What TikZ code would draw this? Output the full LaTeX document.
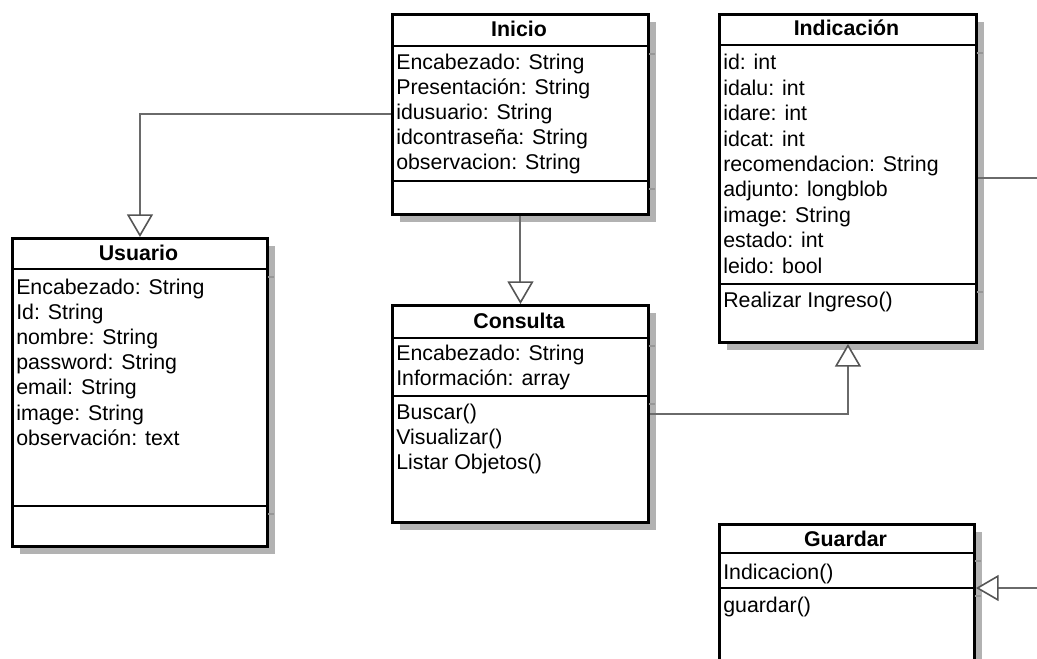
\documentclass[tikz,border=0pt]{standalone}
\usepackage{fontspec}
\setmainfont{Liberation Sans}
\usetikzlibrary{arrows.meta,shadows}
\definecolor{shadowgray}{HTML}{B2B2B2}
\definecolor{linkgray}{HTML}{6A6A6A}
\definecolor{tipgray}{HTML}{555555}

% \umlbox{name}{left}{top}{right}{bottom}{sep1}{sep2}
\newcommand{\umlbox}[7]{%
  \node[classbox, minimum width={(#4-#2)*0.75pt}, minimum height={(#5-#3)*0.75pt}] (#1) at (#2,#3) {};
  \draw[shadowsep] (#4+2,#6+8) -- (#4+8,#6+8);
  \draw[shadowsep] (#4+2,#7+8) -- (#4+8,#7+8);
  \draw[sepline] (#2,#6) -- (#4,#6);
  \draw[sepline] (#2,#7) -- (#4,#7);
}

\begin{document}
\begin{tikzpicture}[x=0.75pt,y=-0.75pt,
  classbox/.style={draw=black, line width=2.2pt, fill=white, anchor=north west,
    inner sep=0pt, drop shadow={shadow xshift=6pt, shadow yshift=-6pt, fill=shadowgray, opacity=1}},
  sepline/.style={draw=black, line width=2.2pt},
  shadowsep/.style={draw=shadowgray!85!black, line width=0.8pt},
  member/.style={anchor=base west, inner sep=0pt, font=\fontsize{16}{19}\selectfont},
  classtitle/.style={anchor=base, inner sep=0pt, font=\fontsize{16}{19}\selectfont\bfseries},
  link/.style={draw=linkgray, line width=1.5pt},
  gen/.style={-{Triangle[length=17pt, width=19.5pt, fill=white, color=tipgray, line width=1.2pt]}}
]
\clip (0,0) rectangle (1037,659);

% Inicio
\umlbox{inicio}{391}{13}{647}{213}{46}{181}
\node[classtitle] (inicioT) at (519,37) {Inicio};
\node[member] (i1) at (396,70) {Encabezado: String};
\node[member] (i2) at (396,95) {Presentación: String};
\node[member] (i3) at (396,120) {idusuario: String};
\node[member] (i4) at (396,145) {idcontraseña: String};
\node[member] (i5) at (396,170) {observacion: String};

% Indicacion
\umlbox{indicacion}{718}{13}{975}{341}{45}{284}
\node[classtitle] (indT) at (846.5,36) {Indicación};
\node[member] (n1) at (723,70) {id: int};
\node[member] (n2) at (723,95.4) {idalu: int};
\node[member] (n3) at (723,120.8) {idare: int};
\node[member] (n4) at (723,146.2) {idcat: int};
\node[member] (n5) at (723,171.6) {recomendacion: String};
\node[member] (n6) at (723,197) {adjunto: longblob};
\node[member] (n7) at (723,222.4) {image: String};
\node[member] (n8) at (723,247.8) {estado: int};
\node[member] (n9) at (723,273.2) {leido: bool};
\node[member] (nm1) at (723,307) {Realizar Ingreso()};

% Usuario
\umlbox{usuario}{11}{237}{266}{545}{269}{506}
\node[classtitle] (usuT) at (138.5,260) {Usuario};
\node[member] (u1) at (16,294) {Encabezado: String};
\node[member] (u2) at (16,319.2) {Id: String};
\node[member] (u3) at (16,344.4) {nombre: String};
\node[member] (u4) at (16,369.6) {password: String};
\node[member] (u5) at (16,394.8) {email: String};
\node[member] (u6) at (16,420) {image: String};
\node[member] (u7) at (16,445.2) {observación: text};

% Consulta
\umlbox{consulta}{391}{304}{647}{521}{338}{396}
\node[classtitle] (conT) at (519,328) {Consulta};
\node[member] (c1) at (396,360) {Encabezado: String};
\node[member] (c2) at (396,385) {Información: array};
\node[member] (cm1) at (396,419) {Buscar()};
\node[member] (cm2) at (396,444) {Visualizar()};
\node[member] (cm3) at (396,469) {Listar Objetos()};

% Guardar
\umlbox{guardar}{718}{523}{973}{690}{553}{588}
\node[classtitle] (guaT) at (845.5,546) {Guardar};
\node[member] (g1) at (723,579) {Indicacion()};
\node[member] (gm1) at (723,612) {guardar()};

% connectors
\coordinate (rightA) at (1045,177);
\coordinate (rightB) at (1045,588);
\draw[link, gen] (inicio.west) -| (usuario.north);
\draw[link, gen] (inicio.south) -- (consulta.north);
\draw[link, gen] (consulta.east) -| (indicacion.south);
\draw[link] (indicacion.east) -- (indicacion.east -| rightA);
\draw[link, gen] (rightB) -- (rightB -| guardar.east);
\end{tikzpicture}
\end{document}
